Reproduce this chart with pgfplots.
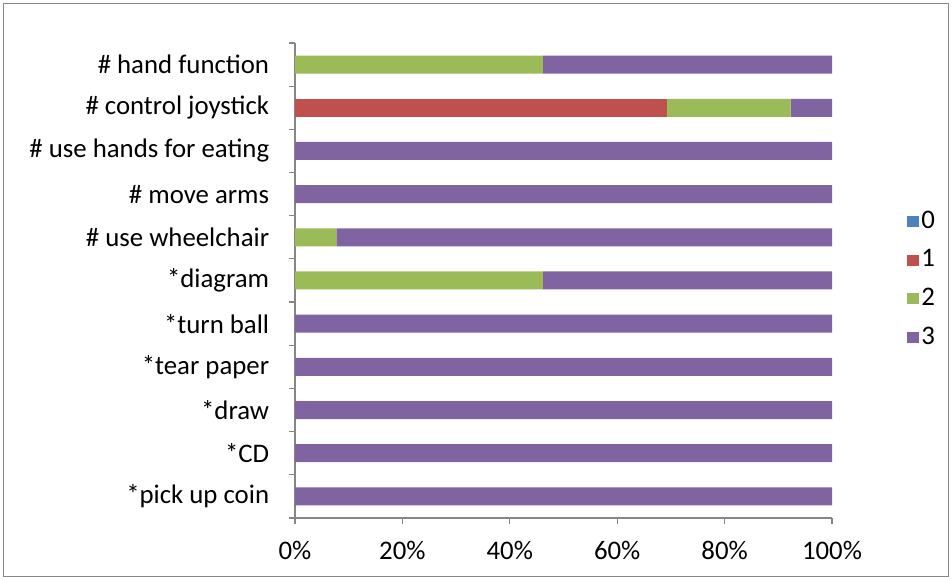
\documentclass[border=0pt]{standalone}
\usepackage{pgfplots}
\pgfplotsset{compat=1.18}
\usepackage{pgfplotstable}
\usepackage{fontspec}
\setmainfont{Carlito}
\definecolor{c0}{HTML}{4F81BD}
\definecolor{c1}{HTML}{C0504D}
\definecolor{c2}{HTML}{9BBB59}
\definecolor{c3}{HTML}{8064A2}
\definecolor{axgray}{HTML}{868686}
\pgfplotstableread{
idx a b c d
0 0 0 0 100
1 0 0 0 100
2 0 0 0 100
3 0 0 0 100
4 0 0 0 100
5 0 0 46.15 53.85
6 0 0 7.69 92.31
7 0 0 0 100
8 0 0 0 100
9 0 69.23 23.08 7.69
10 0 0 46.15 53.85
}\datatable
\begin{document}
\fontsize{20.1}{24}\selectfont
\begin{tikzpicture}
\useasboundingbox (0,0) rectangle (714pt,435pt);
\draw[axgray, line width=0.75pt] (2.6pt,2.6pt) rectangle (711.4pt,432.4pt);
\begin{axis}[
  at={(221.25pt,46.5pt)}, anchor=south west,
  scale only axis, width=402.75pt, height=356.25pt,
  xbar stacked, bar width=13.5pt,
  xmin=0, xmax=100, ymin=-0.5, ymax=10.5,
  axis x line*=bottom, axis y line*=left,
  axis line style={axgray, line width=0.9pt},
  every tick/.style={axgray, line width=0.9pt},
  tick align=outside,
  xtick={0,20,40,60,80,100},
  xticklabels={0\%,20\%,40\%,60\%,80\%,100\%},
  major tick length=4.5pt,
  x tick label style={yshift=-6pt},
  ytick={-0.5,0.5,...,10.5},
  yticklabels={},
  extra y ticks={0,...,10},
  extra y tick labels={*pick up coin,*CD,*draw,*tear paper,*turn ball,*diagram,\# use wheelchair,\# move arms,\# use hands for eating,\# control joystick,\# hand function},
  extra y tick style={tick style={draw=none}, y tick label style={xshift=-8pt}},
  tick label style={font=\fontsize{20.1}{24}\selectfont, text=black},
  legend style={draw=none, at={(1.14,0.502)}, anchor=west, font=\fontsize{20.1}{24}\selectfont, row sep=9pt, inner sep=0pt, cells={anchor=west}},
  legend image code/.code={\fill[#1] (0pt,-4.2pt) rectangle (8.4pt,4.2pt);},
  every axis plot/.append style={draw=none},
]
\addplot[fill=c0] table[x=a, y=idx] {\datatable};
\addplot[fill=c1] table[x=b, y=idx] {\datatable};
\addplot[fill=c2] table[x=c, y=idx] {\datatable};
\addplot[fill=c3] table[x=d, y=idx] {\datatable};
\legend{0,1,2,3}
\end{axis}
\end{tikzpicture}
\end{document}
